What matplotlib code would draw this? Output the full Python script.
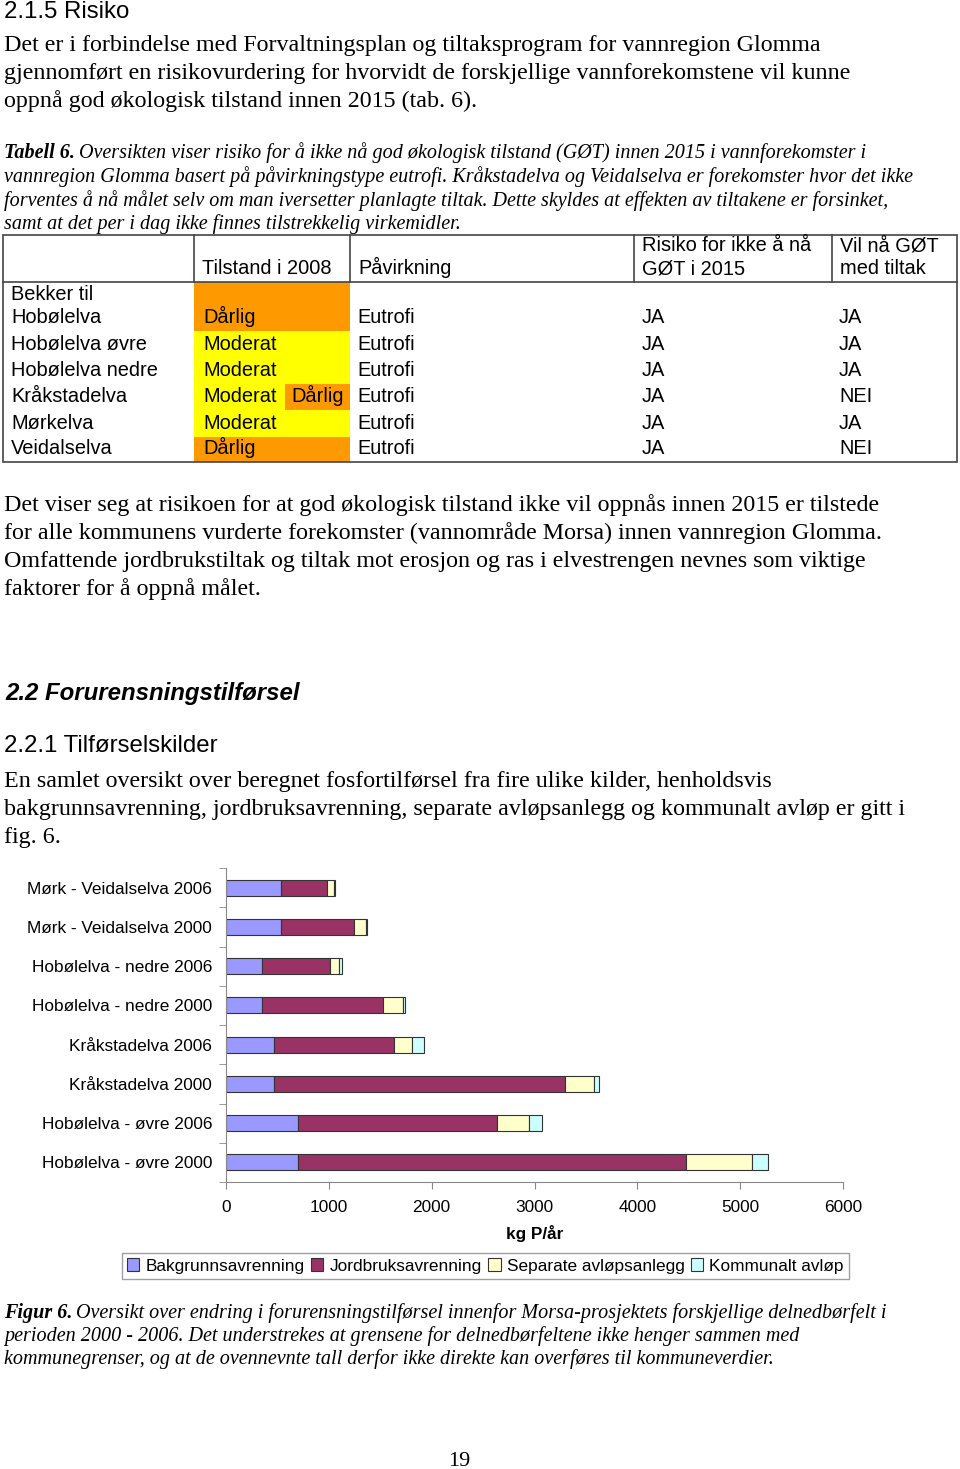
import matplotlib
matplotlib.use("Agg")
import matplotlib.pyplot as plt
from matplotlib.patches import Rectangle, Patch

W, H = 960, 1469

# ---- table data ----
tab_cols = ["", "Tilstand i 2008", "Påvirkning", "Risiko for ikke å nå\nGØT i 2015", "Vil nå GØT\nmed tiltak"]
tab_names = ["Bekker til\nHobølelva", "Hobølelva øvre", "Hobølelva nedre", "Kråkstadelva", "Mørkelva", "Veidalselva"]
tab_state = ["Dårlig", "Moderat", "Moderat", "Moderat|Dårlig", "Moderat", "Dårlig"]
tab_impact = ["Eutrofi"] * 6
tab_risk = ["JA", "JA", "JA", "JA", "JA", "JA"]
tab_goal = ["JA", "JA", "JA", "NEI", "JA", "NEI"]

# ---- chart data (kg P/år) ----
places = ["Mørk - Veidalselva 2006", "Mørk - Veidalselva 2000",
          "Hobølelva - nedre 2006", "Hobølelva - nedre 2000",
          "Kråkstadelva 2006", "Kråkstadelva 2000",
          "Hobølelva - øvre 2006", "Hobølelva - øvre 2000"]
bakgrunn = [535, 535, 353, 353, 471, 471, 705, 705]
jordbruk = [447, 707, 661, 1170, 1167, 2829, 1931, 3772]
separate = [71, 117, 85, 195, 166, 274, 314, 634]
kommunalt = [3, 10, 26, 26, 126, 50, 119, 162]
sources = ["Bakgrunnsavrenning", "Jordbruksavrenning", "Separate avløpsanlegg", "Kommunalt avløp"]
src_colors = ["#9999FF", "#993366", "#FFFFCC", "#CCFFFF"]

SERIF = "Liberation Serif"
SANS = "Liberation Sans"
state_color = {"Dårlig": "#FF9900", "Moderat": "#FFFF00"}

BODY = 17.3
CAP = 14.5
HEAD = 17.3
TSIZE = 14.4
CSIZE = 12.4

fig = plt.figure(figsize=(W / 100, H / 100), dpi=100)
page = fig.add_axes([0, 0, 1, 1])
page.set_xlim(0, W)
page.set_ylim(H, 0)
page.axis("off")


def txt(x, y, s, size=BODY, family=SERIF, **kw):
    # y is the visual middle of the line; place on a baseline so lines stay level
    base = y + 0.27 * size * 100 / 72
    return page.text(x, base, s, fontsize=size, family=family, va="baseline", ha="left", **kw)


def caption(y, lead, rest, size=CAP):
    t = txt(4, y, lead, size=size, style="italic", weight="bold")
    fig.canvas.draw()
    bb = t.get_window_extent()
    txt(bb.x1 + 4, y, rest, size=size, style="italic")


txt(4, 12, "2.1.5 Risiko", size=HEAD, family=SANS)
body1 = ["Det er i forbindelse med Forvaltningsplan og tiltaksprogram for vannregion Glomma",
         "gjennomført en risikovurdering for hvorvidt de forskjellige vannforekomstene vil kunne",
         "oppnå god økologisk tilstand innen 2015 (tab. 6)."]
for i, line in enumerate(body1):
    txt(4, 45 + 28 * i, line)

caption(153, "Tabell 6.", "Oversikten viser risiko for å ikke nå god økologisk tilstand (GØT) innen 2015 i vannforekomster i")
cap_lines = ["vannregion Glomma basert på påvirkningstype eutrofi. Kråkstadelva og Veidalselva er forekomster hvor det ikke",
             "forventes å nå målet selv om man iversetter planlagte tiltak. Dette skyldes at effekten av tiltakene er forsinket,",
             "samt at det per i dag ikke finnes tilstrekkelig virkemidler."]
for i, line in enumerate(cap_lines):
    txt(4, 177 + 23.2 * i, line, size=CAP, style="italic")

# ---- table ----
tx = [3, 194, 350, 634, 832, 957]
t_top, t_head, t_bot = 235, 282, 462
row_edges = [282, 331, 357.5, 384, 410, 436.5, 462]
for i, (name, st) in enumerate(zip(tab_names, tab_state)):
    y0, y1 = row_edges[i], row_edges[i + 1]
    yc = y1 - 13
    parts = st.split("|")
    if len(parts) == 1:
        page.add_patch(Rectangle((tx[1], y0), tx[2] - tx[1], y1 - y0, color=state_color[st], lw=0))
        txt(203, yc, st, size=TSIZE, family=SANS)
    else:
        page.add_patch(Rectangle((tx[1], y0), 285 - tx[1], y1 - y0, color=state_color[parts[0]], lw=0))
        page.add_patch(Rectangle((285, y0), tx[2] - 285, y1 - y0, color=state_color[parts[1]], lw=0))
        txt(203, yc, parts[0], size=TSIZE, family=SANS)
        txt(291, yc, parts[1], size=TSIZE, family=SANS)
    names = name.split("\n")
    for k, nm in enumerate(names):
        txt(11, yc - 23 * (len(names) - 1 - k), nm, size=TSIZE, family=SANS)
    txt(357, yc, tab_impact[i], size=TSIZE, family=SANS)
    txt(642, yc, tab_risk[i], size=TSIZE, family=SANS)
    txt(839, yc, tab_goal[i], size=TSIZE, family=SANS)

for j, col in enumerate(tab_cols):
    lines = col.split("\n")
    for k, ln in enumerate(lines):
        txt(tx[j] + 8, 269 - 23 * (len(lines) - 1 - k), ln, size=TSIZE, family=SANS)

lc = "#444444"
page.add_patch(Rectangle((tx[0], t_top), tx[-1] - tx[0], t_bot - t_top, fill=False, ec=lc, lw=1.2))
page.plot([tx[0], tx[-1]], [t_head, t_head], color=lc, lw=1.2)
for x in tx[1:-1]:
    page.plot([x, x], [t_top, t_head], color=lc, lw=1.2)

body2 = ["Det viser seg at risikoen for at god økologisk tilstand ikke vil oppnås innen 2015 er tilstede",
         "for alle kommunens vurderte forekomster (vannområde Morsa) innen vannregion Glomma.",
         "Omfattende jordbrukstiltak og tiltak mot erosjon og ras i elvestrengen nevnes som viktige",
         "faktorer for å oppnå målet."]
for i, line in enumerate(body2):
    txt(4, 505 + 28 * i, line)

txt(5, 694, "2.2 Forurensningstilførsel", size=HEAD, family=SANS, weight="bold", style="italic")
txt(4, 746, "2.2.1 Tilførselskilder", size=HEAD, family=SANS)
body3 = ["En samlet oversikt over beregnet fosfortilførsel fra fire ulike kilder, henholdsvis",
         "bakgrunnsavrenning, jordbruksavrenning, separate avløpsanlegg og kommunalt avløp er gitt i",
         "fig. 6."]
for i, line in enumerate(body3):
    txt(4, 781 + 28 * i, line)

# ---- bar chart ----
ax = fig.add_axes([226 / W, 1 - 1182 / H, (843 - 226) / W, (1182 - 868) / H])
ypos = list(range(len(places)))
left = [0] * len(places)
for vals, col, lab in zip([bakgrunn, jordbruk, separate, kommunalt], src_colors, sources):
    ax.barh(ypos, vals, left=left, height=0.41, color=col, edgecolor="#333333", lw=0.8, label=lab)
    left = [a + b for a, b in zip(left, vals)]
ax.set_xlim(0, 6000)
ax.set_ylim(len(places) - 0.5, -0.5)
ax.set_yticks(ypos)
ax.set_yticklabels(places, family=SANS, fontsize=CSIZE)
ax.set_yticks([i - 0.5 for i in range(len(places) + 1)], minor=True)
ax.tick_params(axis="y", which="major", length=0, pad=10)
ax.tick_params(axis="y", which="minor", length=5, color="#888888")
ax.set_xticks(range(0, 6001, 1000))
ax.tick_params(axis="x", length=5, color="#888888", pad=8, labelsize=CSIZE)
for lab in ax.get_xticklabels():
    lab.set_family(SANS)
for s in ["top", "right"]:
    ax.spines[s].set_visible(False)
for s in ["left", "bottom"]:
    ax.spines[s].set_color("#888888")
ax.set_xlabel("kg P/år", family=SANS, weight="bold", fontsize=CSIZE, labelpad=7)

handles = [Patch(facecolor=c, edgecolor="#333333", lw=0.8) for c in src_colors]
leg = fig.legend(handles, sources, loc="center", bbox_to_anchor=(485.5 / W, 1 - 1266 / H),
                 ncol=4, frameon=True, fancybox=False, edgecolor="#888888",
                 prop={"family": SANS, "size": CSIZE}, handlelength=0.7, handleheight=0.7,
                 handletextpad=0.35, columnspacing=0.4, borderpad=0.3, borderaxespad=0)
leg.get_frame().set_linewidth(1.0)

caption(1313, "Figur 6.", "Oversikt over endring i forurensningstilførsel innenfor Morsa-prosjektets forskjellige delnedbørfelt i")
fig_lines = ["perioden 2000 - 2006. Det understrekes at grensene for delnedbørfeltene ikke henger sammen med",
             "kommunegrenser, og at de ovennevnte tall derfor ikke direkte kan overføres til kommuneverdier."]
for i, line in enumerate(fig_lines):
    txt(4, 1336 + 22.5 * i, line, size=CAP, style="italic")

page.text(459, 1461, "19", fontsize=16, family=SERIF, ha="center", va="center")

fig.savefig("out.png", dpi=100)
